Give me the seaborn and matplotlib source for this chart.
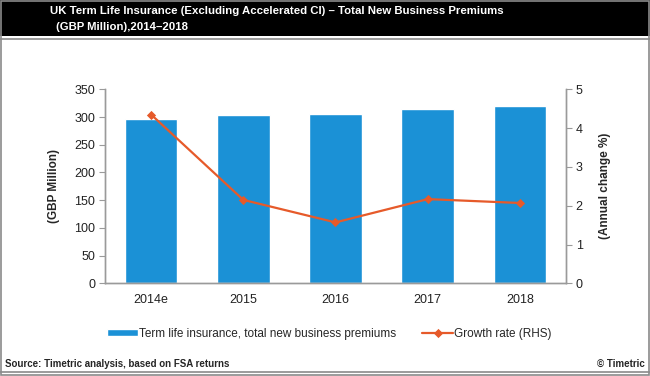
import pandas as pd
import numpy as np
import matplotlib
matplotlib.use("Agg")
import matplotlib.pyplot as plt
import seaborn as sns
from matplotlib.patches import Rectangle
from matplotlib import font_manager

years = ["2014e", "2015", "2016", "2017", "2018"]
premiums = [296, 303, 306, 314, 320]
growth = [4.35, 2.15, 1.57, 2.17, 2.07]

bar_color = "#1b91d6"
line_color = "#e65a2a"

sns.set_style("white")
plt.rcParams["font.family"] = ["Liberation Sans", "DejaVu Sans"]

# narrow face for title if available
names = {f.name for f in font_manager.fontManager.ttflist}
if "Liberation Sans Narrow" in names:
    narrow = ["Liberation Sans Narrow", "DejaVu Sans"]
    title_size = 10.5
else:
    narrow = ["Liberation Sans", "DejaVu Sans"]
    title_size = 8.2

df = pd.DataFrame({"Year": years, "Premiums": premiums, "Growth": growth})

fig = plt.figure(figsize=(6.5, 3.76), dpi=100)
ax = fig.add_axes([0.1615, 0.2465, 0.7093, 0.516])

sns.barplot(data=df, x="Year", y="Premiums", color=bar_color, width=0.57,
            saturation=1, ax=ax, label="Term life insurance, total new business premiums")
ax2 = ax.twinx()
sns.pointplot(data=df, x="Year", y="Growth", color=line_color, markers="D",
              markersize=3.5, linewidth=1.6, ax=ax2, label="Growth rate (RHS)")

ax.set_ylim(0, 350)
ax.set_yticks(range(0, 351, 50))
ax2.set_ylim(0, 5)
ax2.set_yticks(range(0, 6))
ax.set_xlim(-0.5, 4.5)

for a in (ax, ax2):
    for s in a.spines.values():
        s.set_color("#9a9a9a")
        s.set_linewidth(1.0)
    a.spines["top"].set_visible(False)
    a.tick_params(axis="y", length=4, color="#9a9a9a", labelsize=9, labelcolor="#222222", pad=3)
    a.tick_params(axis="x", length=0, labelsize=9, labelcolor="#222222", pad=8)

ax.set_xlabel("")
ax.set_ylabel("(GBP Million)", fontsize=8.5, fontweight="bold", labelpad=10)
ax2.set_ylabel("(Annual change %)", fontsize=8.5, fontweight="bold", labelpad=12)

h1, l1 = ax.get_legend_handles_labels()
h2, l2 = ax2.get_legend_handles_labels()
if ax.get_legend():
    ax.get_legend().remove()
if ax2.get_legend():
    ax2.get_legend().remove()
fig.legend(h1 + h2, l1 + l2, loc="center", bbox_to_anchor=(0.507, 0.112), ncol=2,
           frameon=False, fontsize=8.5, handlelength=2.6, handleheight=0.5,
           columnspacing=2.2, handletextpad=0.1)

# title band and borders
fig.patches.append(Rectangle((0, 1 - 36 / 376), 1, 36 / 376, transform=fig.transFigure,
                             facecolor="black", edgecolor="none", zorder=0))
fig.patches.append(Rectangle((0.002, 0.002), 0.996, 0.996, transform=fig.transFigure,
                             facecolor="none", edgecolor="#8a8a8a", linewidth=1.2))
fig.lines.append(plt.Line2D([0, 1], [1 - 39 / 376] * 2, transform=fig.transFigure,
                            color="#8a8a8a", linewidth=1.2))
fig.lines.append(plt.Line2D([0, 1], [1 - 372 / 376] * 2, transform=fig.transFigure,
                            color="#8a8a8a", linewidth=1.2))
fig.text(0.077, 1 - 11 / 376,
         "UK Term Life Insurance (Excluding Accelerated CI) \u2013 Total New Business Premiums",
         color="white", fontsize=title_size, fontweight="bold", va="center", ha="left",
         family=narrow)
fig.text(0.086, 1 - 27 / 376, "(GBP Million),2014\u20132018",
         color="white", fontsize=title_size, fontweight="bold", va="center", ha="left",
         family=narrow)

fig.text(0.008, 1 - 364 / 376, "Source: Timetric analysis, based on FSA returns",
         fontsize=7, fontweight="bold", va="center", ha="left")
fig.text(0.992, 1 - 364 / 376, "\u00a9 Timetric", fontsize=7, fontweight="bold",
         va="center", ha="right")

fig.savefig("out.png", dpi=100)
